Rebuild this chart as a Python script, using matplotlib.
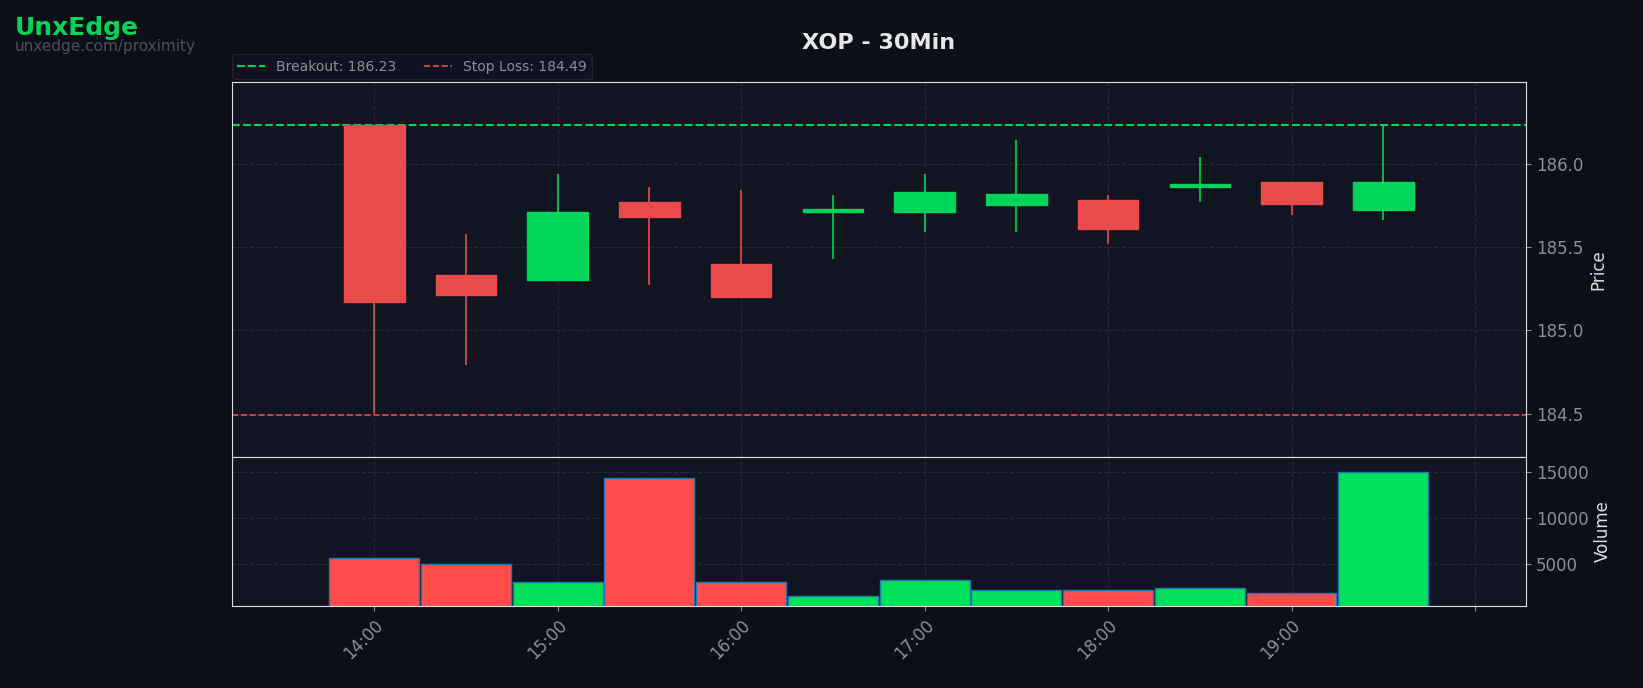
import matplotlib
matplotlib.use("Agg")
import matplotlib.pyplot as plt
import matplotlib.dates as mdates
import pandas as pd
import numpy as np

times = pd.date_range("2024-01-02 14:00", periods=12, freq="30min")
opens  = [186.23,185.33,185.30,185.77,185.40,185.71,185.71,185.75,185.78,185.86,185.89,185.72]
closes = [185.17,185.21,185.71,185.68,185.20,185.73,185.83,185.82,185.61,185.87,185.76,185.89]
highs  = [186.23,185.58,185.94,185.86,185.84,185.81,185.94,186.14,185.81,186.04,185.89,186.23]
lows   = [184.50,184.79,185.30,185.27,185.20,185.43,185.59,185.59,185.52,185.77,185.69,185.66]
volumes= [5700,5000,3100,14400,3100,1500,3300,2200,2200,2400,1900,15100]
breakout, stop = 186.23, 184.49

BG="#0b0f17"; AX="#111522"; GREEN="#00d45a"; RED="#e84b4b"; GRID="#242935"; TXT="#8a8f99"
fig = plt.figure(figsize=(16.43,6.88), dpi=100, facecolor=BG)
ax = fig.add_axes([0.141,0.336,0.788,0.545], facecolor=AX)
axv = fig.add_axes([0.141,0.119,0.788,0.217], facecolor=AX, sharex=ax)

x = mdates.date2num(times)
step = 1/48
for xi,o,c,h,l in zip(x,opens,closes,highs,lows):
    col = GREEN if c>=o else RED
    ax.vlines(xi,l,h,color=col,lw=1.2,zorder=2)
    ax.bar(xi,max(abs(c-o),0.015),bottom=min(o,c),width=step*0.66,color=col,edgecolor=col,zorder=3)
vcols = ["#00e05a" if c>=o else "#ff4d4d" for o,c in zip(opens,closes)]
axv.bar(x,volumes,width=step*0.98,color=vcols,edgecolor="#1f77b4",lw=1,zorder=3)

ax.axhline(breakout,color=GREEN,ls="--",lw=1.5,label=f"Breakout: {breakout:.2f}")
ax.axhline(stop,color=RED,ls="--",lw=1.2,label=f"Stop Loss: {stop:.2f}")

ax.set_xlim(x[0]-136/175/24, x[0]+(6+49/175)/24)
ax.set_ylim(184.24,186.49)
ax.set_yticks([184.5,185.0,185.5,186.0])
axv.set_ylim(450,16700)
axv.set_yticks([5000,10000,15000])

for a in (ax,axv):
    a.set_axisbelow(True)
    a.yaxis.tick_right(); a.yaxis.set_label_position("right")
    a.grid(True,color=GRID,ls="--",lw=0.8)
    for s in a.spines.values(): s.set_color("#e0e0e0")
    a.tick_params(colors=TXT,labelsize=12)
ax.tick_params(labelbottom=False)
ax.set_ylabel("Price",color="#e0e0e0",fontsize=12)
axv.set_ylabel("Volume",color="#e0e0e0",fontsize=12)
axv.xaxis.set_major_locator(mdates.HourLocator())
axv.xaxis.set_major_formatter(mdates.DateFormatter("%H:%M"))
fig.canvas.draw()
labs = axv.get_xticklabels()
for t in labs:
    if t.get_text()=="20:00": t.set_visible(False)
plt.setp(labs,rotation=45,ha="right",rotation_mode="anchor")

leg = ax.legend(loc="lower left",bbox_to_anchor=(-0.002,1.0),ncol=2,frameon=True,fontsize=10,
                facecolor=AX,edgecolor=GRID,labelcolor=TXT,borderaxespad=0.2)
fig.text(0.535,0.938,"XOP - 30Min",color="#e8e8e8",fontsize=16,fontweight="bold",ha="center",va="center")
fig.text(0.009,0.96,"UnxEdge",color=GREEN,fontsize=18,fontweight="bold",va="center")
fig.text(0.009,0.932,"unxedge.com/proximity",color="#4a4f5a",fontsize=11,va="center")
fig.savefig("out.png",dpi=100,facecolor=BG)
